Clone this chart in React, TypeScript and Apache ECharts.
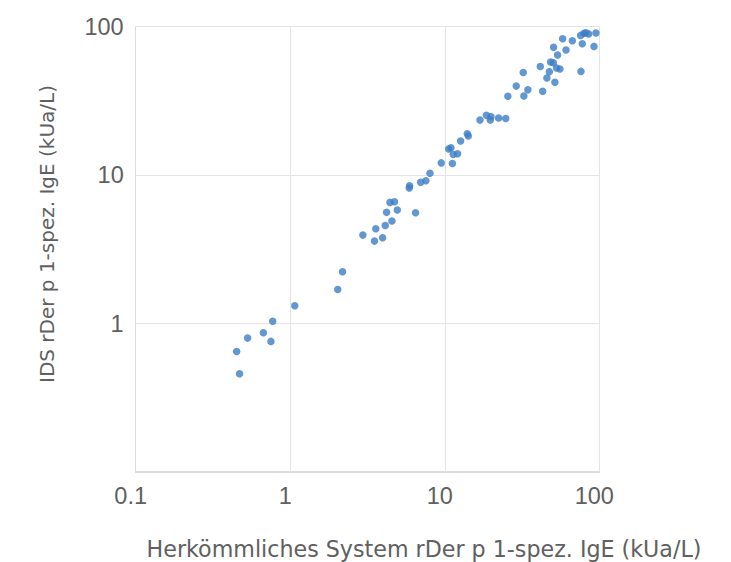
import React, { useEffect, useRef } from "react";
import * as echarts from "echarts";

const xTitle = "Herkömmliches System rDer p 1-spez. IgE (kUa/L)";
const yTitle = "IDS rDer p 1-spez. IgE (kUa/L)";

// Conventional system (x) values, kUa/L
const conventional = [
  0.45, 0.47, 0.53, 0.67, 0.75, 0.77, 1.07, 2.03, 2.18, 2.95,
  3.51, 3.58, 3.96, 4.12, 4.55, 4.2, 4.42, 4.73, 4.93, 5.89,
  5.92, 6.47, 6.98, 7.55, 8.02, 9.49, 11.2, 10.6, 10.96, 11.35,
  12.1, 12.66, 13.98, 14.2, 16.9, 18.6, 19.9, 19.7, 22.3, 24.8,
  25.6, 29.0, 32.2, 32.5, 34.5, 41.5, 43.0, 45.8, 47.5, 48.4,
  50.4, 51.6, 50.6, 53.7, 55.6, 52.9, 57.9, 60.9, 66.9, 76.1,
  77.6, 75.7, 79.6, 82.0, 85.3, 92.4, 95.1,
];

// IDS (y) values, kUa/L
const ids = [
  0.65, 0.46, 0.8, 0.87, 0.76, 1.04, 1.32, 1.7, 2.24, 3.95,
  3.6, 4.36, 3.79, 4.59, 4.91, 5.62, 6.56, 6.63, 5.83, 8.2,
  8.5, 5.59, 8.95, 9.18, 10.3, 12.1, 12.0, 15.0, 15.3, 13.8,
  13.95, 17.0, 19.0, 18.35, 23.5, 25.3, 24.8, 23.5, 24.3, 24.1,
  34.0, 39.8, 49.2, 34.1, 37.6, 54.0, 36.7, 45.1, 49.8, 57.8,
  57.2, 42.2, 72.6, 64.5, 51.9, 52.7, 83.0, 69.7, 80.5, 50.0,
  76.8, 87.4, 90.2, 91.1, 89.2, 73.7, 90.6,
];

const fontFamily = "'Liberation Sans', Arial, sans-serif";
const titleFont = "'DejaVu Sans', sans-serif";
const textColor = "#606060";

const fmt = (v: number) => String(Number(v.toPrecision(6)));

export default function App() {
  const ref = useRef<HTMLDivElement>(null);
  useEffect(() => {
    if (!ref.current) return;
    const chart = echarts.init(ref.current, undefined, { renderer: "svg" });
    const points = conventional.map((x, i) => [x, ids[i]]);
    chart.setOption({
      animation: false,
      backgroundColor: "#ffffff",
      grid: { left: 135.7, top: 26.7, width: 463.6, height: 445.5 },
      xAxis: {
        type: "log",
        logBase: 10,
        min: 0.1,
        max: 100,
        axisLine: { show: true, lineStyle: { color: "#dcdcdc", width: 2 } },
        axisTick: { show: false },
        splitLine: { show: true, lineStyle: { color: "#e4e4e4", width: 1 } },
        axisLabel: {
          color: textColor,
          fontFamily,
          fontSize: 23.5,
          margin: 12,
          formatter: (v: number) => fmt(v),
          padding: [0, 10, 0, 0],
        },
      },
      yAxis: {
        type: "log",
        logBase: 10,
        min: 0.1,
        max: 100,
        axisLine: { show: true, lineStyle: { color: "#dcdcdc", width: 1 } },
        axisTick: { show: false },
        splitLine: { show: true, lineStyle: { color: "#e4e4e4", width: 1 } },
        axisLabel: {
          color: textColor,
          fontFamily,
          fontSize: 23.5,
          margin: 12,
          formatter: (v: number) => (v < 0.5 ? "" : fmt(v)),
        },
      },
      graphic: [
        {
          type: "text",
          x: 424,
          y: 549,
          style: {
            text: xTitle,
            fill: textColor,
            font: `22.2px ${titleFont}`,
            textAlign: "center",
            textVerticalAlign: "middle",
          },
        },
        {
          type: "text",
          x: 47,
          y: 234,
          rotation: Math.PI / 2,
          style: {
            text: yTitle,
            fill: textColor,
            font: `20px ${titleFont}`,
            textAlign: "center",
            textVerticalAlign: "middle",
          },
        },
      ],
      series: [
        {
          type: "scatter",
          data: points,
          symbol: "circle",
          symbolSize: 7.5,
          itemStyle: { color: "#3b7dc5" },
        },
      ],
    });
    return () => chart.dispose();
  }, []);
  return (
    <div
      ref={ref}
      style={{ position: "fixed", left: 0, top: 0, width: 731, height: 562 }}
    />
  );
}
